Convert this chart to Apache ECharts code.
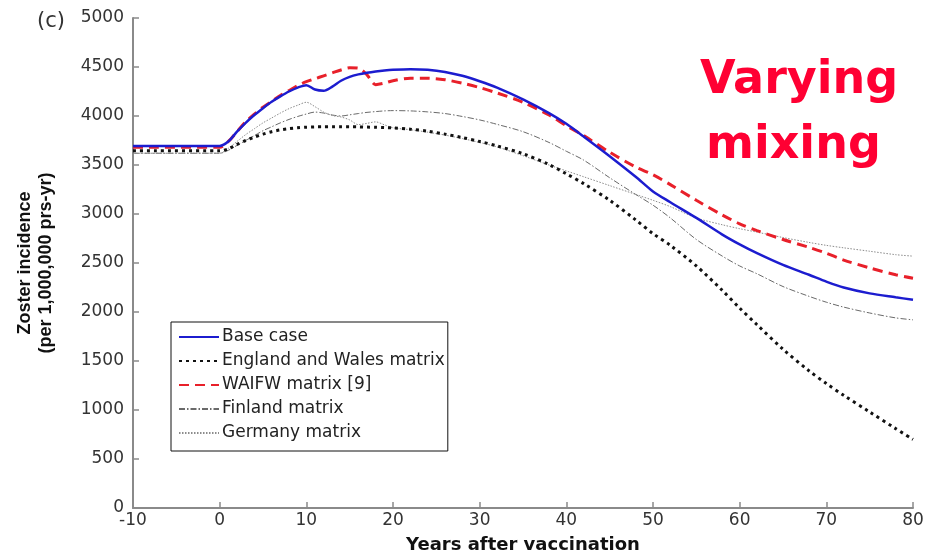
<!doctype html>
<html lang="en">
<head>
    <meta charset="UTF-8">
    <title>Zoster incidence - varying mixing</title>
    <style>
        html, body{margin: 0; padding: 0; background: #fff;}
        #chart{width: 931px; height: 554px;}
    </style>
</head>
<body>
<div id="chart"></div>
<script src="https://cdn.jsdelivr.net/npm/echarts@6/dist/echarts.min.js"></script>
<script>
    // years after vaccination (shared by every curve)
    var years = [-10, 0, 1, 2, 3, 4, 5, 6, 7, 8, 9, 10, 11, 12, 13, 14, 15, 16, 17, 18, 19, 20,
        22, 24, 26, 28, 30, 32, 35, 38, 40, 42, 45, 48, 50, 52, 55, 58, 60, 62, 65, 68, 70, 72, 75, 78, 80];

    var baseCase = [3695, 3695, 3740, 3840, 3930, 4010, 4080, 4145, 4200, 4250, 4290, 4315, 4270, 4258, 4300, 4360, 4400, 4425, 4442, 4455, 4465, 4472,
        4478, 4472, 4450, 4410, 4355, 4290, 4170, 4030, 3920, 3790, 3590, 3380, 3230, 3120, 2960, 2790, 2690, 2600, 2480, 2380, 2310, 2250, 2190, 2150, 2125];

    var englandWales = [3645, 3645, 3665, 3710, 3750, 3785, 3815, 3840, 3858, 3870, 3880, 3886, 3889, 3890, 3890, 3890, 3890, 3889, 3887, 3885, 3882, 3878,
        3865, 3845, 3815, 3780, 3740, 3695, 3615, 3505, 3410, 3310, 3140, 2940, 2800, 2680, 2470, 2220, 2040, 1870, 1620, 1400, 1270, 1150, 980, 810, 700];

    var waifw = [3680, 3680, 3740, 3840, 3940, 4020, 4090, 4150, 4210, 4260, 4310, 4350, 4380, 4410, 4440, 4470, 4492, 4488, 4420, 4320, 4335, 4360,
        4385, 4385, 4370, 4335, 4290, 4235, 4140, 4010, 3900, 3800, 3630, 3480, 3400, 3300, 3140, 2990, 2900, 2830, 2740, 2660, 2600, 2530, 2450, 2380, 2345];

    var finland = [3620, 3620, 3650, 3700, 3750, 3800, 3850, 3890, 3930, 3965, 3995, 4020, 4040, 4030, 4010, 4000, 4012, 4025, 4037, 4045, 4052, 4055,
        4052, 4042, 4025, 3995, 3960, 3915, 3840, 3730, 3640, 3550, 3370, 3200, 3090, 2960, 2740, 2570, 2470, 2390, 2260, 2160, 2100, 2050, 1990, 1940, 1920];

    var germany = [3620, 3620, 3670, 3740, 3810, 3870, 3930, 3980, 4030, 4075, 4110, 4140, 4095, 4040, 4005, 3990, 3960, 3912, 3925, 3940, 3910, 3880,
        3860, 3835, 3805, 3770, 3730, 3685, 3595, 3500, 3440, 3380, 3290, 3200, 3140, 3075, 2960, 2890, 2850, 2815, 2760, 2710, 2680, 2655, 2620, 2585, 2570];

    var seriesNames = ['Base case', 'England and Wales matrix', 'WAIFW matrix [9]', 'Finland matrix', 'Germany matrix'];

    function pairs(vals) {
        return years.map(function (y, i) { return [y, vals[i]]; });
    }

    var axisGray = '#8a8a8a';
    var labelFont = 'DejaVu Sans';

    var chart = echarts.init(document.getElementById('chart'), null, {renderer: 'canvas'});
    chart.setOption({
        animation: false,
        backgroundColor: '#fff',
        grid: {left: 133, right: 18, top: 18, bottom: 46, outerBoundsMode: 'none', containLabel: false},
        legend: {
            orient: 'vertical',
            left: 171,
            top: 322,
            padding: [5, 3, 8, 7],
            itemGap: 4,
            itemWidth: 40,
            itemHeight: 14,
            backgroundColor: '#fff',
            borderColor: '#111',
            borderWidth: 1,
            borderRadius: 0,
            itemStyle: {opacity: 0},
            textStyle: {fontFamily: labelFont, fontSize: 17, color: '#222', lineHeight: 20, padding: [0, 0, 0, -2]},
            data: seriesNames
        },
        xAxis: {
            type: 'value',
            min: -10,
            max: 80,
            interval: 10,
            name: 'Years after vaccination',
            nameLocation: 'middle',
            nameGap: 28,
            nameTextStyle: {fontFamily: labelFont, fontSize: 18, fontWeight: 'bold', color: '#111'},
            axisLine: {onZero: false, lineStyle: {color: axisGray, width: 2}},
            axisTick: {inside: true, length: 6, lineStyle: {color: axisGray, width: 1.5}},
            axisLabel: {fontFamily: labelFont, fontSize: 17, color: '#333', margin: 4, formatter: function (v) { return String(v); }},
            splitLine: {show: false}
        },
        yAxis: {
            type: 'value',
            min: 0,
            max: 5000,
            interval: 500,
            name: 'Zoster incidence\n(per 1,000,000 prs-yr)',
            nameLocation: 'middle',
            nameRotate: 90,
            nameGap: 76,
            nameTextStyle: {fontFamily: 'Liberation Sans', fontSize: 18, fontWeight: 'bold', color: '#111', lineHeight: 21},
            axisLine: {show: true, onZero: false, lineStyle: {color: axisGray, width: 2}},
            axisTick: {show: true, inside: true, length: 6, lineStyle: {color: axisGray, width: 1.5}},
            axisLabel: {fontFamily: labelFont, fontSize: 17, color: '#333', margin: 9, formatter: function (v) { return String(v); }},
            splitLine: {show: false}
        },
        graphic: [
            {type: 'text', left: 37, top: 11, style: {text: '(c)', fontFamily: labelFont, fontSize: 21, fill: '#333'}},
            {type: 'text', left: 700, top: 58, style: {text: 'Varying', fontFamily: labelFont, fontSize: 46, fontWeight: 'bold', fill: '#ff0033'}},
            {type: 'text', left: 706, top: 123, style: {text: 'mixing', fontFamily: labelFont, fontSize: 46, fontWeight: 'bold', fill: '#ff0033'}}
        ],
        series: [
            {
                name: seriesNames[3], type: 'line', symbol: 'none', smooth: 0.3, z: 2,
                lineStyle: {color: '#6a6a6a', width: 1, type: [6, 2, 1.5, 2]},
                itemStyle: {color: '#6a6a6a'},
                data: pairs(finland)
            },
            {
                name: seriesNames[4], type: 'line', symbol: 'none', smooth: 0.3, z: 2,
                lineStyle: {color: '#8c8c8c', width: 1, type: [1.5, 1.5]},
                itemStyle: {color: '#8c8c8c'},
                data: pairs(germany)
            },
            {
                name: seriesNames[1], type: 'line', symbol: 'none', smooth: 0.3, z: 3,
                lineStyle: {color: '#111', width: 3, type: [3, 4], cap: 'butt'},
                itemStyle: {color: '#111'},
                data: pairs(englandWales)
            },
            {
                name: seriesNames[2], type: 'line', symbol: 'none', smooth: 0.3, z: 4,
                lineStyle: {color: '#e8202a', width: 3, type: [10, 6]},
                itemStyle: {color: '#e8202a'},
                data: pairs(waifw)
            },
            {
                name: seriesNames[0], type: 'line', symbol: 'none', smooth: 0.3, z: 5,
                lineStyle: {color: '#1c1ccf', width: 2.5},
                itemStyle: {color: '#1c1ccf'},
                data: pairs(baseCase)
            }
        ]
    });
</script>
</body>
</html>
